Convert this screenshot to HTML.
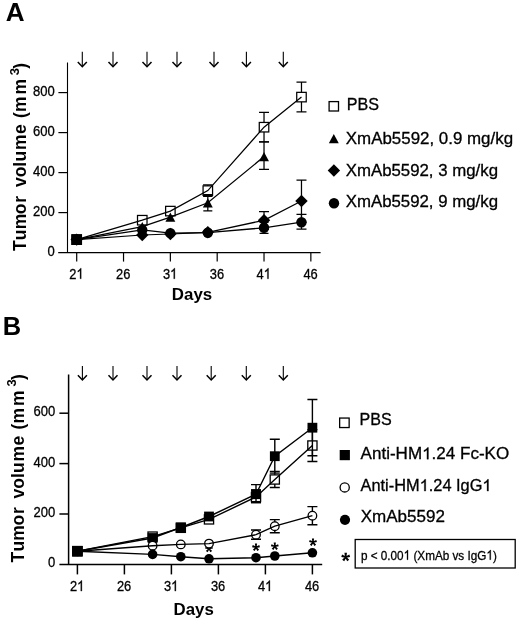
<!DOCTYPE html>
<html><head><meta charset="utf-8"><title>Tumor volume</title>
<style>
html,body{margin:0;padding:0;background:#fff;}
body{width:520px;height:622px;overflow:hidden;font-family:"Liberation Sans", sans-serif;}
svg{display:block;will-change:transform;}
svg text{font-family:"Liberation Sans", sans-serif;fill:#000;font-kerning:none;stroke:#000;stroke-width:0.3px;}
svg text[font-weight=bold], svg g[font-weight=bold] text{stroke-width:0;}
</style></head><body>
<svg width="520" height="622" viewBox="0 0 520 622">
<rect width="520" height="622" fill="#fff"/>
<text x="5.85" y="21.15" font-size="25.3" font-weight="bold" textLength="18.84" lengthAdjust="spacingAndGlyphs">A</text>
<path d="M67.5 62.4V252.6M58.2 252.6H320.6" fill="none" stroke="#000" stroke-width="1.1"/>
<path d="M58.4 212.60H67.5" stroke="#000" stroke-width="1.2"/>
<path d="M58.4 172.60H67.5" stroke="#000" stroke-width="1.2"/>
<path d="M58.4 132.60H67.5" stroke="#000" stroke-width="1.2"/>
<path d="M58.4 92.60H67.5" stroke="#000" stroke-width="1.2"/>
<text transform="translate(47.46 255.60) scale(0.88 1)" font-size="14.8" font-weight="normal">0</text>
<text transform="translate(32.97 215.60) scale(0.88 1)" font-size="14.8" font-weight="normal">2</text>
<text transform="translate(40.21 215.60) scale(0.88 1)" font-size="14.8" font-weight="normal">0</text>
<text transform="translate(47.46 215.60) scale(0.88 1)" font-size="14.8" font-weight="normal">0</text>
<text transform="translate(32.97 175.60) scale(0.88 1)" font-size="14.8" font-weight="normal">4</text>
<text transform="translate(40.21 175.60) scale(0.88 1)" font-size="14.8" font-weight="normal">0</text>
<text transform="translate(47.46 175.60) scale(0.88 1)" font-size="14.8" font-weight="normal">0</text>
<text transform="translate(32.97 135.60) scale(0.88 1)" font-size="14.8" font-weight="normal">6</text>
<text transform="translate(40.21 135.60) scale(0.88 1)" font-size="14.8" font-weight="normal">0</text>
<text transform="translate(47.46 135.60) scale(0.88 1)" font-size="14.8" font-weight="normal">0</text>
<text transform="translate(32.97 95.60) scale(0.88 1)" font-size="14.8" font-weight="normal">8</text>
<text transform="translate(40.21 95.60) scale(0.88 1)" font-size="14.8" font-weight="normal">0</text>
<text transform="translate(47.46 95.60) scale(0.88 1)" font-size="14.8" font-weight="normal">0</text>
<path d="M76.70 252.6V261.6" stroke="#000" stroke-width="1.2"/>
<text transform="translate(69.24 278.80) scale(0.87 1)" font-size="14.8" font-weight="normal">2</text>
<path transform="translate(76.40 278.80) scale(0.00629 -0.00723)" d="M763 0H583V1147Q518 1085 413 1023T223 930V1104Q374 1175 487 1276T647 1472H763Z" fill="#000" stroke="#000" stroke-width="42"/>
<path d="M123.53 252.6V261.6" stroke="#000" stroke-width="1.2"/>
<text transform="translate(116.07 278.80) scale(0.87 1)" font-size="14.8" font-weight="normal">2</text>
<text transform="translate(123.23 278.80) scale(0.87 1)" font-size="14.8" font-weight="normal">6</text>
<path d="M170.36 252.6V261.6" stroke="#000" stroke-width="1.2"/>
<text transform="translate(162.90 278.80) scale(0.87 1)" font-size="14.8" font-weight="normal">3</text>
<path transform="translate(170.06 278.80) scale(0.00629 -0.00723)" d="M763 0H583V1147Q518 1085 413 1023T223 930V1104Q374 1175 487 1276T647 1472H763Z" fill="#000" stroke="#000" stroke-width="42"/>
<path d="M217.19 252.6V261.6" stroke="#000" stroke-width="1.2"/>
<text transform="translate(209.73 278.80) scale(0.87 1)" font-size="14.8" font-weight="normal">3</text>
<text transform="translate(216.89 278.80) scale(0.87 1)" font-size="14.8" font-weight="normal">6</text>
<path d="M264.02 252.6V261.6" stroke="#000" stroke-width="1.2"/>
<text transform="translate(256.56 278.80) scale(0.87 1)" font-size="14.8" font-weight="normal">4</text>
<path transform="translate(263.72 278.80) scale(0.00629 -0.00723)" d="M763 0H583V1147Q518 1085 413 1023T223 930V1104Q374 1175 487 1276T647 1472H763Z" fill="#000" stroke="#000" stroke-width="42"/>
<path d="M310.85 252.6V261.6" stroke="#000" stroke-width="1.2"/>
<text transform="translate(303.39 278.80) scale(0.87 1)" font-size="14.8" font-weight="normal">4</text>
<text transform="translate(310.55 278.80) scale(0.87 1)" font-size="14.8" font-weight="normal">6</text>
<text x="171.87" y="300.00" font-size="16.2" font-weight="bold" textLength="40.32" lengthAdjust="spacingAndGlyphs">Days</text>
<g transform="translate(26.3 250.8) rotate(-90)" font-size="17.5" font-weight="bold">
<text x="-0.20" y="0">T</text>
<text x="10.60" y="0">u</text>
<text x="21.55" y="0">m</text>
<text x="36.60" y="0">o</text>
<text x="48.15" y="0">r</text>
<text x="63.80" y="0">v</text>
<text x="73.50" y="0">o</text>
<text x="84.10" y="0">l</text>
<text x="89.30" y="0">u</text>
<text x="100.75" y="0">m</text>
<text x="116.80" y="0">e</text>
<text x="132.80" y="0">(</text>
<text x="138.75" y="0">m</text>
<text x="156.25" y="0">m</text>
<text x="182.10" y="0">)</text>
<text x="175.6" y="-7.7" font-size="13">3</text>
</g>
<path d="M82.30 51.80V66.30" fill="none" stroke="#000" stroke-width="1.1"/>
<path d="M77.80 61.90L82.30 66.70L86.80 61.90" fill="none" stroke="#000" stroke-width="1.5" stroke-linejoin="miter"/>
<path d="M113.00 51.80V66.30" fill="none" stroke="#000" stroke-width="1.1"/>
<path d="M108.50 61.90L113.00 66.70L117.50 61.90" fill="none" stroke="#000" stroke-width="1.5" stroke-linejoin="miter"/>
<path d="M147.00 51.80V66.30" fill="none" stroke="#000" stroke-width="1.1"/>
<path d="M142.50 61.90L147.00 66.70L151.50 61.90" fill="none" stroke="#000" stroke-width="1.5" stroke-linejoin="miter"/>
<path d="M177.00 51.80V66.30" fill="none" stroke="#000" stroke-width="1.1"/>
<path d="M172.50 61.90L177.00 66.70L181.50 61.90" fill="none" stroke="#000" stroke-width="1.5" stroke-linejoin="miter"/>
<path d="M214.00 51.80V66.30" fill="none" stroke="#000" stroke-width="1.1"/>
<path d="M209.50 61.90L214.00 66.70L218.50 61.90" fill="none" stroke="#000" stroke-width="1.5" stroke-linejoin="miter"/>
<path d="M246.40 51.80V66.30" fill="none" stroke="#000" stroke-width="1.1"/>
<path d="M241.90 61.90L246.40 66.70L250.90 61.90" fill="none" stroke="#000" stroke-width="1.5" stroke-linejoin="miter"/>
<path d="M283.30 51.80V66.30" fill="none" stroke="#000" stroke-width="1.1"/>
<path d="M278.80 61.90L283.30 66.70L287.80 61.90" fill="none" stroke="#000" stroke-width="1.5" stroke-linejoin="miter"/>
<path d="M301.48 82.10V111.80M296.48 82.10H306.48M296.48 111.80H306.48" fill="none" stroke="#000" stroke-width="1.25"/>
<path d="M264.02 112.30V141.90M259.02 112.30H269.02M259.02 141.90H269.02" fill="none" stroke="#000" stroke-width="1.25"/>
<path d="M207.82 184.90V196.30M203.07 184.90H212.57M203.07 196.30H212.57" fill="none" stroke="#000" stroke-width="1.25"/>
<rect x="71.95" y="234.85" width="9.5" height="9.5" fill="#fff" stroke="#000" stroke-width="1.25"/>
<rect x="137.51" y="215.45" width="9.5" height="9.5" fill="#fff" stroke="#000" stroke-width="1.25"/>
<rect x="165.61" y="206.35" width="9.5" height="9.5" fill="#fff" stroke="#000" stroke-width="1.25"/>
<rect x="203.07" y="185.85" width="9.5" height="9.5" fill="#fff" stroke="#000" stroke-width="1.25"/>
<rect x="259.27" y="122.45" width="9.5" height="9.5" fill="#fff" stroke="#000" stroke-width="1.25"/>
<rect x="296.73" y="92.35" width="9.5" height="9.5" fill="#fff" stroke="#000" stroke-width="1.25"/>
<path d="M76.70 239.60L142.26 220.20L170.36 211.10L207.82 190.60L264.02 127.20L301.48 97.10" fill="none" stroke="#000" stroke-width="1.25"/>
<path d="M264.02 141.90V169.30M259.02 141.90H269.02M259.02 169.30H269.02" fill="none" stroke="#000" stroke-width="1.25"/>
<path d="M207.82 194.50V210.90M203.32 194.50H212.32M203.32 210.90H212.32" fill="none" stroke="#000" stroke-width="1.25"/>
<path d="M71.75 244.20L81.65 244.20L76.70 235.00Z" fill="#000"/>
<path d="M137.31 231.20L147.21 231.20L142.26 222.00Z" fill="#000"/>
<path d="M165.41 221.80L175.31 221.80L170.36 212.60Z" fill="#000"/>
<path d="M202.87 207.40L212.77 207.40L207.82 198.20Z" fill="#000"/>
<path d="M259.07 161.20L268.97 161.20L264.02 152.00Z" fill="#000"/>
<path d="M76.70 239.60L142.26 226.60L170.36 217.20L207.82 202.80L264.02 156.60" fill="none" stroke="#000" stroke-width="1.25"/>
<path d="M264.02 211.70V229.00M259.02 211.70H269.02M259.02 229.00H269.02" fill="none" stroke="#000" stroke-width="1.25"/>
<path d="M301.48 180.00V222.00M296.48 180.00H306.48M296.48 222.00H306.48" fill="none" stroke="#000" stroke-width="1.25"/>
<path d="M70.50 239.60L76.70 233.40L82.90 239.60L76.70 245.80Z" fill="#000"/>
<path d="M136.06 235.00L142.26 228.80L148.46 235.00L142.26 241.20Z" fill="#000"/>
<path d="M164.16 234.00L170.36 227.80L176.56 234.00L170.36 240.20Z" fill="#000"/>
<path d="M201.62 232.30L207.82 226.10L214.02 232.30L207.82 238.50Z" fill="#000"/>
<path d="M257.82 220.30L264.02 214.10L270.22 220.30L264.02 226.50Z" fill="#000"/>
<path d="M295.28 201.00L301.48 194.80L307.68 201.00L301.48 207.20Z" fill="#000"/>
<path d="M76.70 239.60L142.26 235.00L170.36 234.00L207.82 232.30L264.02 220.30L301.48 201.00" fill="none" stroke="#000" stroke-width="1.25"/>
<path d="M264.02 222.40V233.30M259.52 222.40H268.52M259.52 233.30H268.52" fill="none" stroke="#000" stroke-width="1.25"/>
<path d="M301.48 214.40V229.20M296.48 214.40H306.48M296.48 229.20H306.48" fill="none" stroke="#000" stroke-width="1.25"/>
<circle cx="76.70" cy="239.60" r="5.2" fill="#000"/>
<circle cx="142.26" cy="230.00" r="5.2" fill="#000"/>
<circle cx="170.36" cy="233.10" r="5.2" fill="#000"/>
<circle cx="207.82" cy="232.70" r="5.2" fill="#000"/>
<circle cx="264.02" cy="227.80" r="5.2" fill="#000"/>
<circle cx="301.48" cy="222.20" r="5.2" fill="#000"/>
<path d="M76.70 239.60L142.26 230.00L170.36 233.10L207.82 232.70L264.02 227.80L301.48 222.20" fill="none" stroke="#000" stroke-width="1.25"/>
<rect x="71.40" y="234.30" width="10.6" height="10.6" fill="#000"/>
<rect x="329.10" y="101.60" width="9.4" height="9.4" fill="#fff" stroke="#000" stroke-width="1.3"/>
<text x="346.78" y="109.80" font-size="16.4" font-weight="normal" textLength="32.26" lengthAdjust="spacingAndGlyphs">PBS</text>
<path d="M328.85 143.20L338.75 143.20L333.80 134.00Z" fill="#000"/>
<text x="345.82" y="143.70" font-size="16.4" font-weight="normal" textLength="167.27" lengthAdjust="spacingAndGlyphs">XmAb5592, 0.9 mg/kg</text>
<path d="M327.70 170.50L333.90 164.30L340.10 170.50L333.90 176.70Z" fill="#000"/>
<text x="345.72" y="176.20" font-size="16.4" font-weight="normal" textLength="152.26" lengthAdjust="spacingAndGlyphs">XmAb5592, 3 mg/kg</text>
<circle cx="334.00" cy="203.20" r="5.2" fill="#000"/>
<text x="345.72" y="206.60" font-size="16.4" font-weight="normal" textLength="152.26" lengthAdjust="spacingAndGlyphs">XmAb5592, 9 mg/kg</text>
<text x="2.89" y="335.00" font-size="25.3" font-weight="bold" textLength="18.41" lengthAdjust="spacingAndGlyphs">B</text>
<path d="M68.6 374.4V564.4M59.4 564.4H322.2" fill="none" stroke="#000" stroke-width="1.5"/>
<path d="M59.4 514.00H68.6" stroke="#000" stroke-width="1.5"/>
<path d="M59.4 463.60H68.6" stroke="#000" stroke-width="1.5"/>
<path d="M59.4 413.20H68.6" stroke="#000" stroke-width="1.5"/>
<text transform="translate(48.06 567.40) scale(0.88 1)" font-size="14.8" font-weight="normal">0</text>
<text transform="translate(33.57 517.00) scale(0.88 1)" font-size="14.8" font-weight="normal">2</text>
<text transform="translate(40.81 517.00) scale(0.88 1)" font-size="14.8" font-weight="normal">0</text>
<text transform="translate(48.06 517.00) scale(0.88 1)" font-size="14.8" font-weight="normal">0</text>
<text transform="translate(33.57 466.60) scale(0.88 1)" font-size="14.8" font-weight="normal">4</text>
<text transform="translate(40.81 466.60) scale(0.88 1)" font-size="14.8" font-weight="normal">0</text>
<text transform="translate(48.06 466.60) scale(0.88 1)" font-size="14.8" font-weight="normal">0</text>
<text transform="translate(33.57 416.20) scale(0.88 1)" font-size="14.8" font-weight="normal">6</text>
<text transform="translate(40.81 416.20) scale(0.88 1)" font-size="14.8" font-weight="normal">0</text>
<text transform="translate(48.06 416.20) scale(0.88 1)" font-size="14.8" font-weight="normal">0</text>
<path d="M77.40 564.4V574.4" stroke="#000" stroke-width="1.5"/>
<text transform="translate(69.94 591.10) scale(0.87 1)" font-size="14.8" font-weight="normal">2</text>
<path transform="translate(77.10 591.10) scale(0.00629 -0.00723)" d="M763 0H583V1147Q518 1085 413 1023T223 930V1104Q374 1175 487 1276T647 1472H763Z" fill="#000" stroke="#000" stroke-width="42"/>
<path d="M124.40 564.4V574.4" stroke="#000" stroke-width="1.5"/>
<text transform="translate(116.94 591.10) scale(0.87 1)" font-size="14.8" font-weight="normal">2</text>
<text transform="translate(124.10 591.10) scale(0.87 1)" font-size="14.8" font-weight="normal">6</text>
<path d="M171.40 564.4V574.4" stroke="#000" stroke-width="1.5"/>
<text transform="translate(163.94 591.10) scale(0.87 1)" font-size="14.8" font-weight="normal">3</text>
<path transform="translate(171.10 591.10) scale(0.00629 -0.00723)" d="M763 0H583V1147Q518 1085 413 1023T223 930V1104Q374 1175 487 1276T647 1472H763Z" fill="#000" stroke="#000" stroke-width="42"/>
<path d="M218.40 564.4V574.4" stroke="#000" stroke-width="1.5"/>
<text transform="translate(210.94 591.10) scale(0.87 1)" font-size="14.8" font-weight="normal">3</text>
<text transform="translate(218.10 591.10) scale(0.87 1)" font-size="14.8" font-weight="normal">6</text>
<path d="M265.40 564.4V574.4" stroke="#000" stroke-width="1.5"/>
<text transform="translate(257.94 591.10) scale(0.87 1)" font-size="14.8" font-weight="normal">4</text>
<path transform="translate(265.10 591.10) scale(0.00629 -0.00723)" d="M763 0H583V1147Q518 1085 413 1023T223 930V1104Q374 1175 487 1276T647 1472H763Z" fill="#000" stroke="#000" stroke-width="42"/>
<path d="M312.40 564.4V574.4" stroke="#000" stroke-width="1.5"/>
<text transform="translate(304.94 591.10) scale(0.87 1)" font-size="14.8" font-weight="normal">4</text>
<text transform="translate(312.10 591.10) scale(0.87 1)" font-size="14.8" font-weight="normal">6</text>
<text x="173.57" y="614.70" font-size="16.6" font-weight="bold" textLength="40.22" lengthAdjust="spacingAndGlyphs">Days</text>
<g transform="translate(24.1 562.2) rotate(-90)" font-size="17.5" font-weight="bold">
<text x="-0.20" y="0">T</text>
<text x="10.60" y="0">u</text>
<text x="21.55" y="0">m</text>
<text x="36.60" y="0">o</text>
<text x="48.15" y="0">r</text>
<text x="63.80" y="0">v</text>
<text x="73.50" y="0">o</text>
<text x="84.10" y="0">l</text>
<text x="89.30" y="0">u</text>
<text x="100.75" y="0">m</text>
<text x="116.80" y="0">e</text>
<text x="132.80" y="0">(</text>
<text x="138.75" y="0">m</text>
<text x="156.25" y="0">m</text>
<text x="182.10" y="0">)</text>
<text x="175.6" y="-7.7" font-size="13">3</text>
</g>
<path d="M82.40 366.00V379.60" fill="none" stroke="#000" stroke-width="1.1"/>
<path d="M77.90 375.20L82.40 380.00L86.90 375.20" fill="none" stroke="#000" stroke-width="1.5" stroke-linejoin="miter"/>
<path d="M113.00 366.00V379.60" fill="none" stroke="#000" stroke-width="1.1"/>
<path d="M108.50 375.20L113.00 380.00L117.50 375.20" fill="none" stroke="#000" stroke-width="1.5" stroke-linejoin="miter"/>
<path d="M147.00 366.00V379.60" fill="none" stroke="#000" stroke-width="1.1"/>
<path d="M142.50 375.20L147.00 380.00L151.50 375.20" fill="none" stroke="#000" stroke-width="1.5" stroke-linejoin="miter"/>
<path d="M177.00 366.00V379.60" fill="none" stroke="#000" stroke-width="1.1"/>
<path d="M172.50 375.20L177.00 380.00L181.50 375.20" fill="none" stroke="#000" stroke-width="1.5" stroke-linejoin="miter"/>
<path d="M211.20 366.00V379.60" fill="none" stroke="#000" stroke-width="1.1"/>
<path d="M206.70 375.20L211.20 380.00L215.70 375.20" fill="none" stroke="#000" stroke-width="1.5" stroke-linejoin="miter"/>
<path d="M246.30 366.00V379.60" fill="none" stroke="#000" stroke-width="1.1"/>
<path d="M241.80 375.20L246.30 380.00L250.80 375.20" fill="none" stroke="#000" stroke-width="1.5" stroke-linejoin="miter"/>
<path d="M283.30 366.00V379.60" fill="none" stroke="#000" stroke-width="1.1"/>
<path d="M278.80 375.20L283.30 380.00L287.80 375.20" fill="none" stroke="#000" stroke-width="1.5" stroke-linejoin="miter"/>
<path d="M312.40 429.60V461.50M307.40 429.60H317.40M307.40 461.50H317.40" fill="none" stroke="#000" stroke-width="1.4"/>
<path d="M274.80 471.50V487.50M269.80 471.50H279.80M269.80 487.50H279.80" fill="none" stroke="#000" stroke-width="1.4"/>
<path d="M256.00 490.00V502.60M251.00 490.00H261.00M251.00 502.60H261.00" fill="none" stroke="#000" stroke-width="1.4"/>
<rect x="72.80" y="546.60" width="9.2" height="9.2" fill="#fff" stroke="#000" stroke-width="1.3"/>
<rect x="148.00" y="532.00" width="9.2" height="9.2" fill="#fff" stroke="#000" stroke-width="1.3"/>
<rect x="176.20" y="523.20" width="9.2" height="9.2" fill="#fff" stroke="#000" stroke-width="1.3"/>
<rect x="204.40" y="514.80" width="9.2" height="9.2" fill="#fff" stroke="#000" stroke-width="1.3"/>
<rect x="251.40" y="492.40" width="9.2" height="9.2" fill="#fff" stroke="#000" stroke-width="1.3"/>
<rect x="270.20" y="474.90" width="9.2" height="9.2" fill="#fff" stroke="#000" stroke-width="1.3"/>
<rect x="307.80" y="440.90" width="9.2" height="9.2" fill="#fff" stroke="#000" stroke-width="1.3"/>
<path d="M77.40 551.20L152.60 536.60L180.80 527.80L209.00 519.40L256.00 497.00L274.80 479.50L312.40 445.50" fill="none" stroke="#000" stroke-width="1.4"/>
<path d="M312.40 399.50V455.70M307.40 399.50H317.40M307.40 455.70H317.40" fill="none" stroke="#000" stroke-width="1.4"/>
<path d="M274.80 439.30V473.10M269.80 439.30H279.80M269.80 473.10H279.80" fill="none" stroke="#000" stroke-width="1.4"/>
<path d="M256.00 484.60V502.60M251.00 484.60H261.00M251.00 502.60H261.00" fill="none" stroke="#000" stroke-width="1.4"/>
<rect x="72.50" y="546.30" width="9.8" height="9.8" fill="#000"/>
<rect x="147.70" y="533.10" width="9.8" height="9.8" fill="#000"/>
<rect x="175.90" y="522.60" width="9.8" height="9.8" fill="#000"/>
<rect x="204.10" y="511.60" width="9.8" height="9.8" fill="#000"/>
<rect x="251.10" y="489.30" width="9.8" height="9.8" fill="#000"/>
<rect x="269.90" y="451.30" width="9.8" height="9.8" fill="#000"/>
<rect x="307.50" y="422.80" width="9.8" height="9.8" fill="#000"/>
<path d="M77.40 551.20L152.60 538.00L180.80 527.50L209.00 516.50L256.00 494.20L274.80 456.20L312.40 427.70" fill="none" stroke="#000" stroke-width="1.4"/>
<path d="M209.63 548.60L210.08 544.80L207.92 544.80L208.37 548.60ZM209.19 549.20L212.95 548.45L212.28 546.40L208.81 548.00ZM208.49 548.97L210.36 552.31L212.11 551.04L209.51 548.23ZM208.49 548.23L205.89 551.04L207.64 552.31L209.51 548.97ZM209.19 548.00L205.72 546.40L205.05 548.45L208.81 549.20Z" fill="#000"/>
<circle cx="209.00" cy="548.60" r="0.90" fill="#000"/>
<path d="M256.63 547.30L257.08 543.50L254.92 543.50L255.37 547.30ZM256.19 547.90L259.95 547.15L259.28 545.10L255.81 546.70ZM255.49 547.67L257.36 551.01L259.11 549.74L256.51 546.93ZM255.49 546.93L252.89 549.74L254.64 551.01L256.51 547.67ZM256.19 546.70L252.72 545.10L252.05 547.15L255.81 547.90Z" fill="#000"/>
<circle cx="256.00" cy="547.30" r="0.90" fill="#000"/>
<path d="M275.43 546.40L275.88 542.60L273.72 542.60L274.17 546.40ZM274.99 547.00L278.75 546.25L278.08 544.20L274.61 545.80ZM274.29 546.77L276.16 550.11L277.91 548.84L275.31 546.03ZM274.29 546.03L271.69 548.84L273.44 550.11L275.31 546.77ZM274.99 545.80L271.52 544.20L270.85 546.25L274.61 547.00Z" fill="#000"/>
<circle cx="274.80" cy="546.40" r="0.90" fill="#000"/>
<path d="M313.63 542.20L314.08 538.40L311.92 538.40L312.37 542.20ZM313.19 542.80L316.95 542.05L316.28 540.00L312.81 541.60ZM312.49 542.57L314.36 545.91L316.11 544.64L313.51 541.83ZM312.49 541.83L309.89 544.64L311.64 545.91L313.51 542.57ZM313.19 541.60L309.72 540.00L309.05 542.05L312.81 542.80Z" fill="#000"/>
<circle cx="313.00" cy="542.20" r="0.90" fill="#000"/>
<path d="M256.00 530.00V539.30M251.00 530.00H261.00M251.00 539.30H261.00" fill="none" stroke="#000" stroke-width="1.4"/>
<path d="M274.80 519.60V532.80M269.80 519.60H279.80M269.80 532.80H279.80" fill="none" stroke="#000" stroke-width="1.4"/>
<path d="M312.40 506.60V524.70M307.40 506.60H317.40M307.40 524.70H317.40" fill="none" stroke="#000" stroke-width="1.4"/>
<circle cx="77.40" cy="551.20" r="4.3" fill="#fff" stroke="#000" stroke-width="1.3"/>
<circle cx="152.60" cy="545.70" r="4.3" fill="#fff" stroke="#000" stroke-width="1.3"/>
<circle cx="180.80" cy="544.40" r="4.3" fill="#fff" stroke="#000" stroke-width="1.3"/>
<circle cx="209.00" cy="543.60" r="4.3" fill="#fff" stroke="#000" stroke-width="1.3"/>
<circle cx="256.00" cy="534.70" r="4.3" fill="#fff" stroke="#000" stroke-width="1.3"/>
<circle cx="274.80" cy="526.20" r="4.3" fill="#fff" stroke="#000" stroke-width="1.3"/>
<circle cx="312.40" cy="515.70" r="4.3" fill="#fff" stroke="#000" stroke-width="1.3"/>
<path d="M77.40 551.20L152.60 545.70L180.80 544.40L209.00 543.60L256.00 534.70L274.80 526.20L312.40 515.70" fill="none" stroke="#000" stroke-width="1.4"/>
<circle cx="152.60" cy="554.40" r="4.8" fill="#000"/>
<circle cx="180.80" cy="556.70" r="4.8" fill="#000"/>
<circle cx="209.00" cy="558.80" r="4.8" fill="#000"/>
<circle cx="256.00" cy="557.70" r="4.8" fill="#000"/>
<circle cx="274.80" cy="556.00" r="4.8" fill="#000"/>
<circle cx="312.40" cy="552.80" r="4.8" fill="#000"/>
<path d="M77.40 551.20L152.60 554.40L180.80 556.70L209.00 558.80L256.00 557.70L274.80 556.00L312.40 552.80" fill="none" stroke="#000" stroke-width="1.4"/>
<rect x="72.10" y="545.90" width="10.6" height="10.6" fill="#000"/>
<rect x="339.65" y="418.05" width="9.5" height="9.5" fill="#fff" stroke="#000" stroke-width="1.3"/>
<text x="359.48" y="425.20" font-size="16.4" font-weight="normal" textLength="32.16" lengthAdjust="spacingAndGlyphs">PBS</text>
<rect x="339.70" y="450.00" width="10.2" height="10.2" fill="#000"/>
<text x="360.57" y="459.20" font-size="16.4" xml:space="preserve" textLength="61.53" lengthAdjust="spacingAndGlyphs">Anti-HM</text>
<path transform="translate(422.10 459.20) scale(0.00832 -0.00801)" d="M763 0H583V1147Q518 1085 413 1023T223 930V1104Q374 1175 487 1276T647 1472H763Z" fill="#000" stroke="#000" stroke-width="37"/>
<text x="431.58" y="459.20" font-size="16.4" xml:space="preserve" textLength="77.64" lengthAdjust="spacingAndGlyphs">.24 Fc-KO</text>
<circle cx="344.70" cy="487.40" r="4.6" fill="#fff" stroke="#000" stroke-width="1.3"/>
<text x="360.57" y="491.10" font-size="16.4" xml:space="preserve" textLength="59.08" lengthAdjust="spacingAndGlyphs">Anti-HM</text>
<path transform="translate(419.65 491.10) scale(0.00799 -0.00801)" d="M763 0H583V1147Q518 1085 413 1023T223 930V1104Q374 1175 487 1276T647 1472H763Z" fill="#000" stroke="#000" stroke-width="37"/>
<text x="428.75" y="491.10" font-size="16.4" xml:space="preserve" textLength="53.66" lengthAdjust="spacingAndGlyphs">.24 IgG</text>
<path transform="translate(482.40 491.10) scale(0.00799 -0.00801)" d="M763 0H583V1147Q518 1085 413 1023T223 930V1104Q374 1175 487 1276T647 1472H763Z" fill="#000" stroke="#000" stroke-width="37"/>
<circle cx="345.00" cy="519.80" r="5.1" fill="#000"/>
<text x="360.72" y="521.90" font-size="16.4" font-weight="normal" textLength="84.24" lengthAdjust="spacingAndGlyphs">XmAb5592</text>
<path d="M346.44 557.10L346.96 552.85L344.44 552.85L344.96 557.10ZM345.93 557.80L350.13 556.99L349.35 554.59L345.47 556.40ZM345.11 557.53L347.18 561.28L349.22 559.80L346.29 556.67ZM345.11 556.67L342.18 559.80L344.22 561.28L346.29 557.53ZM345.93 556.40L342.05 554.59L341.27 556.99L345.47 557.80Z" fill="#000"/>
<circle cx="345.70" cy="557.10" r="1.05" fill="#000"/>
<rect x="355.2" y="539.5" width="160" height="28.5" fill="none" stroke="#000" stroke-width="1.3"/>
<text x="360.94" y="559.70" font-size="13.4" xml:space="preserve" textLength="42.70" lengthAdjust="spacingAndGlyphs">p &lt; 0.00</text>
<path transform="translate(403.65 559.70) scale(0.00573 -0.00654)" d="M763 0H583V1147Q518 1085 413 1023T223 930V1104Q374 1175 487 1276T647 1472H763Z" fill="#000" stroke="#000" stroke-width="46"/>
<text x="410.17" y="559.70" font-size="13.4" xml:space="preserve" textLength="76.23" lengthAdjust="spacingAndGlyphs"> (XmAb vs IgG</text>
<path transform="translate(486.40 559.70) scale(0.00573 -0.00654)" d="M763 0H583V1147Q518 1085 413 1023T223 930V1104Q374 1175 487 1276T647 1472H763Z" fill="#000" stroke="#000" stroke-width="46"/>
<text x="492.92" y="559.70" font-size="13.4" xml:space="preserve" textLength="3.90" lengthAdjust="spacingAndGlyphs">)</text>
</svg>
</body></html>
